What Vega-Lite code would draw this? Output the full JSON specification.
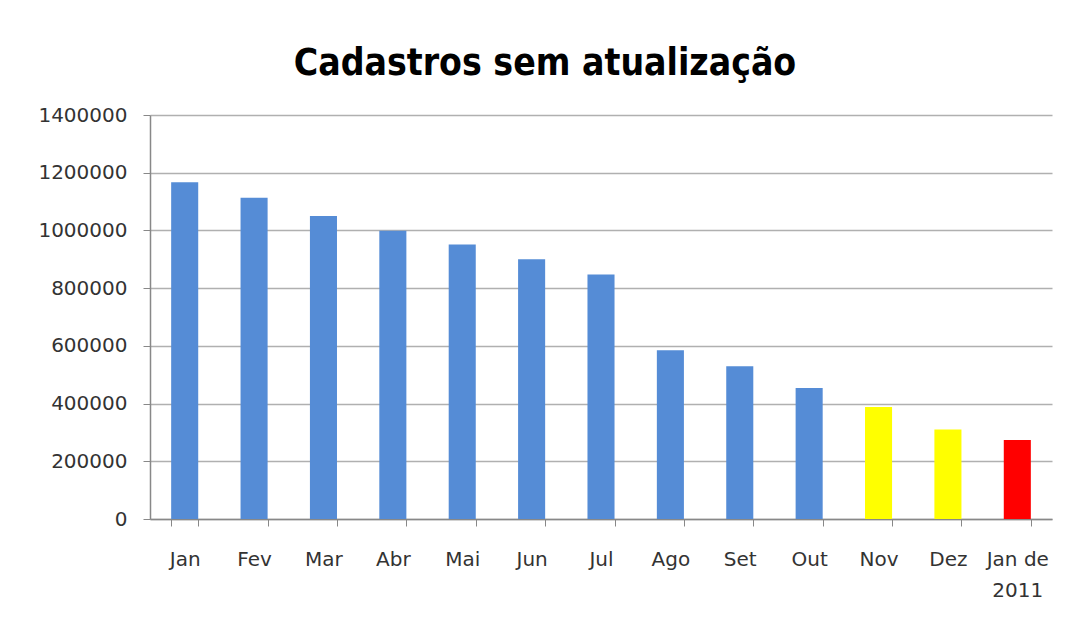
{
  "$schema": "https://vega.github.io/schema/vega-lite/v6.json",
  "width": 902,
  "height": 404,
  "autosize": {"type": "none"},
  "padding": {"left": 150, "top": 115, "right": 16, "bottom": 104},
  "background": "white",
  "title": {
    "text": "Cadastros sem atualização",
    "font": "DejaVu Sans Condensed",
    "fontSize": 37,
    "fontWeight": "bold",
    "color": "black",
    "anchor": "middle",
    "baseline": "alphabetic",
    "offset": 40,
    "dx": -56,
    "dy": 47
  },
  "data": {
    "values": [
      {"mes": "Jan", "valor": 1167000, "cor": "azul"},
      {"mes": "Fev", "valor": 1113000, "cor": "azul"},
      {"mes": "Mar", "valor": 1050000, "cor": "azul"},
      {"mes": "Abr", "valor": 999000, "cor": "azul"},
      {"mes": "Mai", "valor": 951000, "cor": "azul"},
      {"mes": "Jun", "valor": 900000, "cor": "azul"},
      {"mes": "Jul", "valor": 847000, "cor": "azul"},
      {"mes": "Ago", "valor": 585000, "cor": "azul"},
      {"mes": "Set", "valor": 529000, "cor": "azul"},
      {"mes": "Out", "valor": 454000, "cor": "azul"},
      {"mes": "Nov", "valor": 388000, "cor": "amarelo"},
      {"mes": "Dez", "valor": 310000, "cor": "amarelo"},
      {"mes": "Jan de|2011", "valor": 274000, "cor": "vermelho"}
    ]
  },
  "mark": {"type": "bar"},
  "encoding": {
    "x": {
      "field": "mes",
      "type": "nominal",
      "sort": null,
      "scale": {"paddingInner": 0.61, "paddingOuter": 0.305},
      "axis": {
        "title": null,
        "labelAngle": 0,
        "labelExpr": "split(datum.label, '|')",
        "labelFont": "DejaVu Sans",
        "labelFontSize": 20,
        "labelColor": "#333333",
        "labelPadding": 23,
        "labelLineHeight": 31,
        "tickBand": "extent",
        "tickSize": 7,
        "tickColor": "#888888",
        "domainColor": "#888888",
        "domainWidth": 1.5,
        "grid": false
      }
    },
    "y": {
      "field": "valor",
      "type": "quantitative",
      "scale": {"domain": [0, 1400000], "nice": false},
      "axis": {
        "title": null,
        "values": [0, 200000, 400000, 600000, 800000, 1000000, 1200000, 1400000],
        "format": "d",
        "labelFont": "DejaVu Sans",
        "labelFontSize": 20,
        "labelColor": "#333333",
        "labelPadding": 16,
        "tickSize": 7,
        "tickColor": "#888888",
        "domainColor": "#888888",
        "domainWidth": 1.5,
        "gridColor": "#b0b0b0",
        "gridWidth": 1.5
      }
    },
    "color": {
      "field": "cor",
      "type": "nominal",
      "scale": {"domain": ["azul", "amarelo", "vermelho"], "range": ["#558cd6", "#ffff00", "#ff0000"]},
      "legend": null
    }
  },
  "config": {"view": {"stroke": null}}
}
